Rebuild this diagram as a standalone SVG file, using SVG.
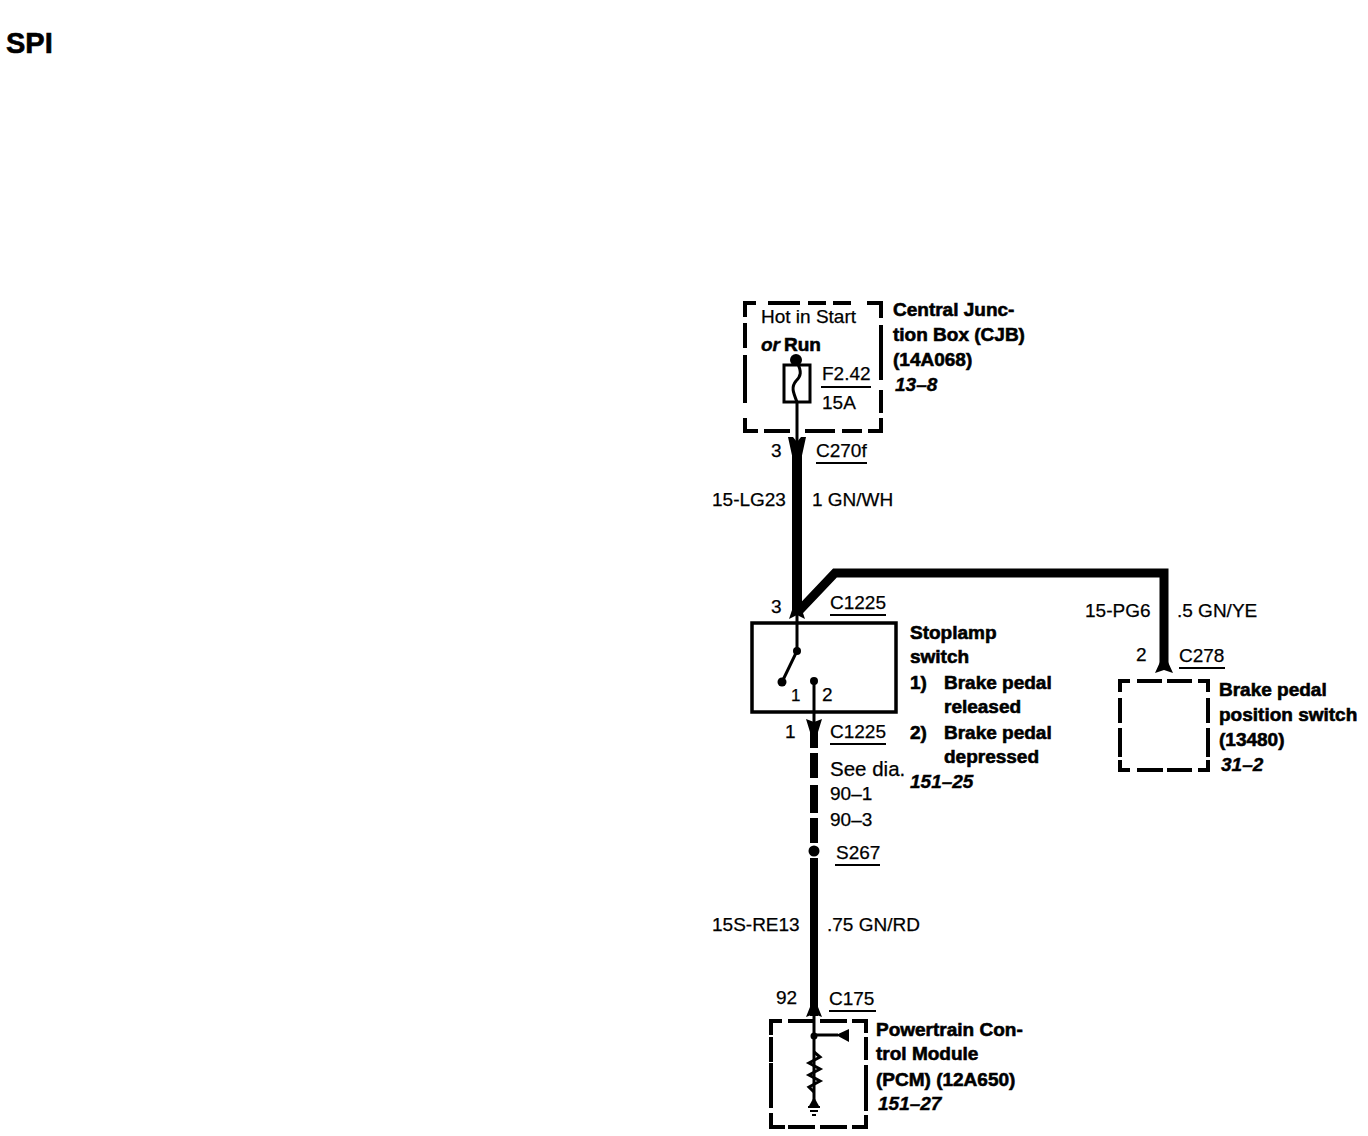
<svg xmlns="http://www.w3.org/2000/svg" width="1368" height="1136" viewBox="0 0 1368 1136">
<style>
text{font-family:"Liberation Sans",Arial,sans-serif;font-size:19px;fill:#000;stroke:#000;stroke-width:.25}
.b{font-weight:bold;stroke-width:.6}
.i{font-weight:bold;font-style:italic;stroke-width:.4}
.d{fill:none;stroke:#000;stroke-width:4}
.u{stroke:#000;stroke-width:1.8;fill:none}
.w{fill:none;stroke:#000;stroke-linejoin:miter}
.a{fill:#000;stroke:none}
.s{fill:none;stroke:#000;stroke-width:3}
</style>
<rect width="1368" height="1136" fill="#fff"/>
<text x="6" y="53" class="b" style="font-size:29px">SPI</text>
<g id="connectors">
<path class="w" stroke-width="10" d="M797 446V614"/>
<path class="w" stroke-width="9" d="M797 613L835 573H1164V670"/>
<path class="w" stroke-width="8" d="M814 722V748M814 753V778M814 785V813M814 818V843M814 858V1016"/>
<path class="s" d="M797 402V446"/>
<path class="s" d="M797 614V651L782 682"/>
<path class="s" d="M814 680V724"/>
<path class="s" d="M814 1012V1100"/>
<path class="a" d="M788 437L793 437L797 442L801 437L806 437L801 460H793Z"/>
<path class="a" d="M789 619L793 607H801L805 619L797 615Z"/>
<path class="a" d="M806 719L814 722L822 719L818 732H810Z"/>
<path class="a" d="M1155 673L1160 662H1168L1173 673L1164 670Z"/>
<path class="a" d="M806 1017L810 1007H818L822 1017L814 1014Z"/>
<circle cx="814" cy="851" r="5.5"/>
</g>
<g id="cjb">
<path class="d" d="M745 317V303H756M768 303H800M808 303H826M833 303H851M867 303H881V318M881 325V380M881 390V413M881 418V431H868M862 431H842M835 431H805M790 431H764M758 431H745V418M745 403V355M745 348V323"/>
<text x="761" y="323">Hot in Start</text>
<text x="761" y="351" class="i">or</text><text x="784" y="351" class="b">Run</text>
<circle cx="796" cy="360" r="6"/>
<rect x="784" y="365" width="26" height="37" class="s"/>
<path class="s" d="M797 362C802 372 801 376 796 381C791 387 793 392 797 402"/>
<text x="822" y="380">F2.42</text>
<path class="u" d="M821 387H871"/>
<text x="822" y="409">15A</text>
<text x="893" y="316" class="b">Central Junc-</text>
<text x="893" y="341" class="b">tion Box (CJB)</text>
<text x="893" y="366" class="b">(14A068)</text>
<text x="895" y="391" class="i">13–8</text>
</g>
<g id="c270f">
<text x="771" y="457">3</text>
<text x="816" y="457">C270f</text>
<path class="u" d="M816 463H867"/>
<text x="712" y="506">15-LG23</text>
<text x="812" y="506">1 GN/WH</text>
</g>
<g id="stoplamp-switch">
<text x="771" y="613">3</text>
<text x="830" y="609">C1225</text>
<path class="u" d="M830 615H886"/>
<rect x="752" y="623" width="144" height="89" fill="none" stroke="#000" stroke-width="3.5"/>
<circle cx="797" cy="651" r="4"/>
<circle cx="782" cy="682" r="4.5"/>
<circle cx="814" cy="681" r="4"/>
<text x="791" y="701" style="font-size:17px">1</text>
<text x="822" y="701">2</text>
<text x="910" y="639" class="b">Stoplamp</text>
<text x="910" y="663" class="b">switch</text>
<text x="910" y="689" class="b">1)</text>
<text x="944" y="689" class="b">Brake pedal</text>
<text x="944" y="713" class="b">released</text>
<text x="910" y="739" class="b">2)</text>
<text x="944" y="739" class="b">Brake pedal</text>
<text x="944" y="763" class="b">depressed</text>
<text x="910" y="788" class="i">151–25</text>
</g>
<g id="c1225">
<text x="785" y="738">1</text>
<text x="830" y="738">C1225</text>
<path class="u" d="M830 744H886"/>
<text x="830" y="776" style="font-size:20.5px">See dia.</text>
<text x="830" y="800">90–1</text>
<text x="830" y="826">90–3</text>
<text x="836" y="859">S267</text>
<path class="u" d="M835 865H880"/>
<text x="712" y="931">15S-RE13</text>
<text x="827" y="931">.75 GN/RD</text>
</g>
<g id="brake-pedal-position-switch">
<text x="1085" y="617">15-PG6</text>
<text x="1177" y="617">.5 GN/YE</text>
<text x="1136" y="661">2</text>
<text x="1179" y="662">C278</text>
<path class="u" d="M1179 668H1225"/>
<path class="d" d="M1120 692V681H1130M1137 681H1162M1167 681H1192M1198 681H1208V692M1208 698V723M1208 728V757M1208 760V770H1198M1192 770H1167M1163 770H1137M1130 770H1120V760M1120 757V728M1120 723V698"/>
<text x="1219" y="696" class="b">Brake pedal</text>
<text x="1219" y="721" class="b">position switch</text>
<text x="1219" y="746" class="b">(13480)</text>
<text x="1221" y="771" class="i">31–2</text>
</g>
<g id="pcm">
<text x="776" y="1004">92</text>
<text x="829" y="1005">C175</text>
<path class="u" d="M829 1011H876"/>
<path class="d" d="M771 1035V1021H782M788 1021H813M820 1021H847M852 1021H866V1033M866 1037V1060M866 1065V1111M866 1115V1127H852M847 1127H820M815 1127H788M785 1127H771V1113M771 1108V1063M771 1062V1037"/>
<circle cx="814" cy="1036" r="3.5"/>
<path class="s" d="M814 1035H838"/>
<path class="a" d="M836 1035L849 1029V1042Z"/>
<path class="s" d="M814 1052L820 1057L809 1063L820 1069L809 1075L820 1081L809 1087L814 1092"/>
<path class="a" d="M809 1106L814 1097L819 1106Z"/>
<path class="s" style="stroke-width:2" d="M808 1107H820M810 1111H818M812 1115H816"/>
<text x="876" y="1036" class="b">Powertrain Con-</text>
<text x="876" y="1060" class="b">trol Module</text>
<text x="876" y="1086" class="b">(PCM) (12A650)</text>
<text x="878" y="1110" class="i">151–27</text>
</g>
</svg>
